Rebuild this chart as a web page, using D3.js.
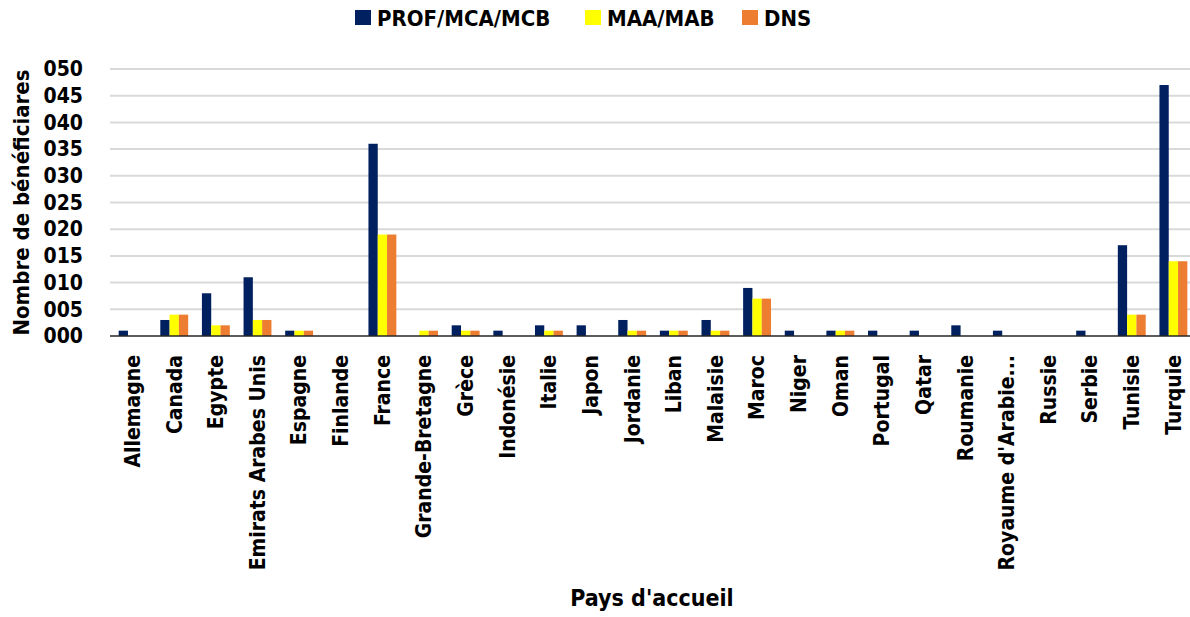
<!DOCTYPE html>
<html>
<head>
<meta charset="utf-8">
<script src="https://cdn.jsdelivr.net/npm/d3@7"></script>
<style>
  body { margin: 0; background: #fff; }
  text { font-family: "DejaVu Sans Condensed", "DejaVu Sans", sans-serif; font-weight: bold; fill: #000; }
</style>
</head>
<body>
<div id="chart"></div>
<script>
// --------------------------------------
//  Data
// --------------------------------------

const countries = ["Allemagne", "Canada", "Egypte", "Emirats Arabes Unis", "Espagne", "Finlande",
  "France", "Grande-Bretagne", "Grèce", "Indonésie", "Italie", "Japon", "Jordanie", "Liban",
  "Malaisie", "Maroc", "Niger", "Oman", "Portugal", "Qatar", "Roumanie", "Royaume d'Arabie...",
  "Russie", "Serbie", "Tunisie", "Turquie"];
const series = ["PROF/MCA/MCB", "MAA/MAB", "DNS"];
const prof = [1, 3, 8, 11, 1, 0, 36, 0, 2, 1, 2, 2, 3, 1, 3, 9, 1, 1, 1, 1, 2, 1, 0, 1, 17, 47];
const maa  = [0, 4, 2, 3, 1, 0, 19, 1, 1, 0, 1, 0, 1, 1, 1, 7, 0, 1, 0, 0, 0, 0, 0, 0, 4, 14];
const dns  = [0, 4, 2, 3, 1, 0, 19, 1, 1, 0, 1, 0, 1, 1, 1, 7, 0, 1, 0, 0, 0, 0, 0, 0, 4, 14];
const yTicks = [0, 5, 10, 15, 20, 25, 30, 35, 40, 45, 50];

const colors = ["#002060", "#FFFF00", "#ED7D31"];

// --------------------------------------
//  Canvas
// --------------------------------------

const width = 1190;
const height = 617;
const margin = { top: 69, right: 0, bottom: 281, left: 110 };

const svg = d3.select("#chart")
  .append("svg")
  .attr("width", width)
  .attr("height", height);

const data = countries.map((c, i) => ({ country: c, values: [prof[i], maa[i], dns[i]] }));

// --------------------------------------
//  Scales
// --------------------------------------

const x = d3.scaleBand(countries, [112, 1194]).paddingInner(0.33).paddingOuter(0.16);
const x1 = d3.scaleBand(series, [0, x.bandwidth()]);
const y = d3.scaleLinear([0, 50], [height - margin.bottom, margin.top]);
const c = d3.scaleOrdinal(series, colors);

// --------------------------------------
//  Grid + axes
// --------------------------------------

svg.append("g")
  .selectAll("line")
  .data(yTicks.filter(d => d > 0))
  .join("line")
  .attr("x1", margin.left)
  .attr("x2", width)
  .attr("y1", d => y(d))
  .attr("y2", d => y(d))
  .attr("stroke", "#d9d9d9")
  .attr("stroke-width", 2);

const yAxis = svg.append("g")
  .attr("transform", `translate(${margin.left - 24},0)`)
  .call(d3.axisLeft(y).tickValues(yTicks).tickFormat(d3.format("03d")).tickSize(0));
yAxis.select(".domain").remove();
yAxis.selectAll("text").style("font-size", "21px").style("font-family", null);

// --------------------------------------
//  Bars
// --------------------------------------

svg.append("g")
  .selectAll("g")
  .data(data)
  .join("g")
  .attr("transform", d => `translate(${x(d.country)},0)`)
  .selectAll("rect")
  .data(d => d.values.map((v, k) => ({ key: series[k], value: v })))
  .join("rect")
  .attr("x", d => x1(d.key))
  .attr("y", d => y(d.value))
  .attr("width", x1.bandwidth())
  .attr("height", d => y(0) - y(d.value))
  .attr("fill", d => c(d.key));

// baseline
svg.append("line")
  .attr("x1", margin.left)
  .attr("x2", width)
  .attr("y1", y(0))
  .attr("y2", y(0))
  .attr("stroke", "#262626")
  .attr("stroke-width", 1.5);

// x labels
const xAxis = svg.append("g")
  .attr("transform", `translate(0,${y(0)})`)
  .call(d3.axisBottom(x).tickSize(0));
xAxis.select(".domain").remove();
xAxis.selectAll("text")
  .style("font-size", "21px")
  .style("font-family", null)
  .attr("text-anchor", "end")
  .attr("transform", "rotate(-90)")
  .attr("x", -19)
  .attr("y", 0)
  .attr("dy", "0.35em");

// --------------------------------------
//  Titles + legend
// --------------------------------------

svg.append("text")
  .attr("transform", `translate(29,${(y(0) + y(50)) / 2}) rotate(-90)`)
  .attr("text-anchor", "middle")
  .style("font-size", "22px")
  .text("Nombre de bénéficiares");

svg.append("text")
  .attr("x", 652)
  .attr("y", 606)
  .attr("text-anchor", "middle")
  .style("font-size", "23px")
  .text("Pays d'accueil");

const legendX = [355, 585, 742];
const legend = svg.append("g")
  .selectAll("g")
  .data(series)
  .join("g")
  .attr("transform", (d, i) => `translate(${legendX[i]},10)`);
legend.append("rect")
  .attr("width", 16)
  .attr("height", 15)
  .attr("fill", d => c(d));
legend.append("text")
  .attr("x", 22)
  .attr("y", 8)
  .attr("dy", "0.35em")
  .style("font-size", "22px")
  .text(d => d);
</script>
</body>
</html>
